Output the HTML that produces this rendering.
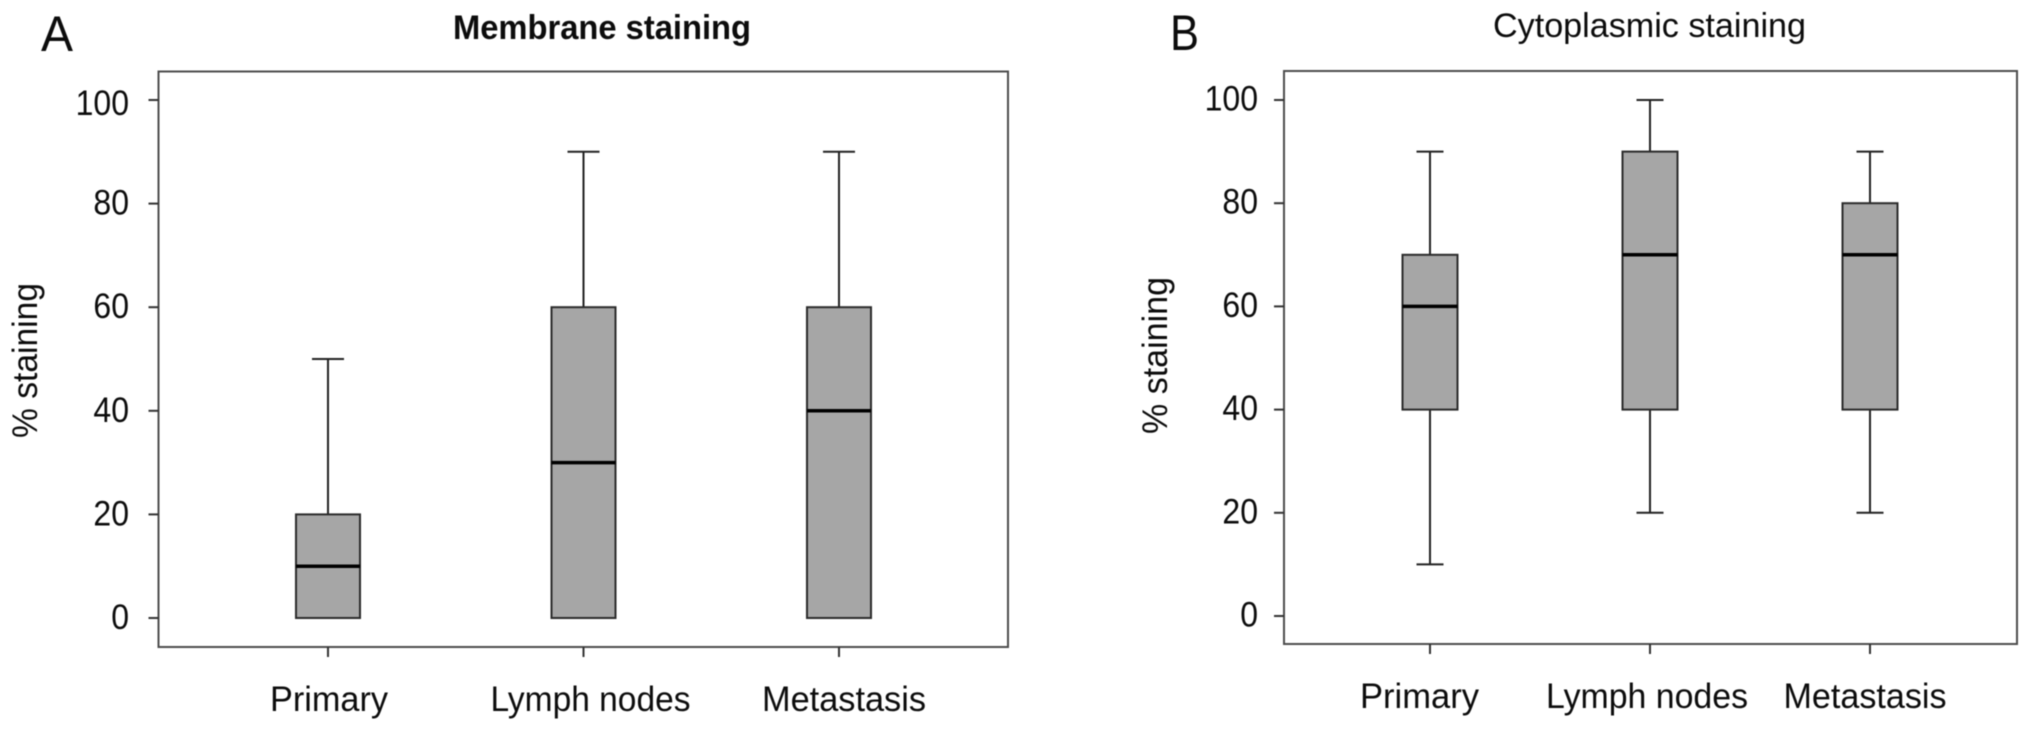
<!DOCTYPE html>
<html lang="en">
<head>
<meta charset="utf-8">
<title>Membrane and cytoplasmic staining box plots</title>
<style>
  html, body { margin: 0; padding: 0; background: #fff; }
  svg { display: block; filter: blur(0.4px); }
  text { font-family: "Liberation Sans", sans-serif; fill: #0c0c0c; }
</style>
</head>
<body>
<svg id="figure" width="2031" height="731" viewBox="0 0 2031 731" xmlns="http://www.w3.org/2000/svg">
  <rect x="0" y="0" width="2031" height="731" fill="#fff"/>
  <text x="41" y="51" font-size="50" textLength="32" lengthAdjust="spacingAndGlyphs">A</text>
  <text x="1170" y="50" font-size="50" textLength="29" lengthAdjust="spacingAndGlyphs">B</text>
  <text x="453" y="39" font-size="34" font-weight="bold" textLength="298" lengthAdjust="spacingAndGlyphs">Membrane staining</text>
  <text x="1493" y="37" font-size="34" textLength="313" lengthAdjust="spacingAndGlyphs">Cytoplasmic staining</text>
  <text transform="translate(37 438) rotate(-90)" font-size="35" textLength="155" lengthAdjust="spacingAndGlyphs">% staining</text>
  <text transform="translate(1167 434) rotate(-90)" font-size="35" textLength="157" lengthAdjust="spacingAndGlyphs">% staining</text>
  <g id="panel-a"></g>
  <g id="panel-b"></g>
</svg>
<script>
// Shared labels
const categories = ["Primary", "Lymph nodes", "Metastasis"];
const yTickValues = [0, 20, 40, 60, 80, 100];

// Panel A: membrane staining
const membraneLow = [0, 0, 0];
const membraneQ1 = [0, 0, 0];
const membraneMedian = [10, 30, 40];
const membraneQ3 = [20, 60, 60];
const membraneHigh = [50, 90, 90];

// Panel B: cytoplasmic staining
const cytoLow = [10, 20, 20];
const cytoQ1 = [40, 40, 40];
const cytoMedian = [60, 70, 70];
const cytoQ3 = [70, 90, 80];
const cytoHigh = [90, 100, 90];

const SVG_NS = "http://www.w3.org/2000/svg";

function make(parent, tag, attrs) {
  const el = document.createElementNS(SVG_NS, tag);
  for (const k in attrs) el.setAttribute(k, attrs[k]);
  parent.appendChild(el);
  return el;
}

function drawPanel(group, prefix, layout, low, q1, median, q3, high) {
  const yAxis = v => layout.y0 - (v / 100) * (layout.y0 - layout.y100);
  const xAxis = i => layout.x0 + i * layout.step;

  const frame = make(group, "rect", {
    x: layout.left, y: layout.top,
    width: layout.right - layout.left, height: layout.bottom - layout.top,
    fill: "none", stroke: "#4d4d4d", "stroke-width": 2
  });
  
  

  yTickValues.forEach(v => {
    const tick = make(group, "line", {
      x1: layout.left - layout.tickLen, x2: layout.left, y1: yAxis(v), y2: yAxis(v),
      stroke: "#333", "stroke-width": 2
    });
    
    

    const text = String(v);
    const label = make(group, "text", {
      x: layout.yLabelRight, y: yAxis(v) + (v === 100 ? layout.topLabelDrop : layout.labelDrop),
      "text-anchor": "end", "font-size": 35,
      textLength: text.length * 17.8, lengthAdjust: "spacingAndGlyphs"
    });
    label.textContent = text;
    
    
  });

  categories.forEach((name, i) => {
    const cx = xAxis(i);

    const tick = make(group, "line", {
      x1: cx, x2: cx, y1: layout.bottom, y2: layout.bottom + layout.tickLen,
      stroke: "#333", "stroke-width": 2
    });
    
    

    const label = make(group, "text", {
      x: cx + layout.catShift[i], y: layout.catBaseline,
      "text-anchor": "middle", "font-size": 35,
      textLength: layout.catWidth[i], lengthAdjust: "spacingAndGlyphs"
    });
    label.textContent = name;
    
    

    const whiskerUp = make(group, "line", {
      x1: cx, x2: cx, y1: yAxis(high[i]), y2: yAxis(q3[i]), stroke: "#222", "stroke-width": 2
    });
    
    

    const capUp = make(group, "line", {
      x1: cx - layout.capHalf, x2: cx + layout.capHalf, y1: yAxis(high[i]), y2: yAxis(high[i]),
      stroke: "#222", "stroke-width": 2
    });
    
    

    if (low[i] < q1[i]) {
      const whiskerDown = make(group, "line", {
        x1: cx, x2: cx, y1: yAxis(q1[i]), y2: yAxis(low[i]), stroke: "#222", "stroke-width": 2
      });
      
      

      const capDown = make(group, "line", {
        x1: cx - layout.capHalf, x2: cx + layout.capHalf, y1: yAxis(low[i]), y2: yAxis(low[i]),
        stroke: "#222", "stroke-width": 2
      });
      
      
    }

    const box = make(group, "rect", {
      x: cx - layout.boxHalf, y: yAxis(q3[i]),
      width: layout.boxHalf * 2, height: yAxis(q1[i]) - yAxis(q3[i]),
      fill: "#a6a6a6", stroke: "#2b2b2b", "stroke-width": 2
    });
    
    

    const med = make(group, "line", {
      x1: cx - layout.boxHalf, x2: cx + layout.boxHalf, y1: yAxis(median[i]), y2: yAxis(median[i]),
      stroke: "#000", "stroke-width": 3.5
    });
    
    
  });
}

drawPanel(document.getElementById("panel-a"), "panel-a", {
  left: 158.5, right: 1008, top: 71.5, bottom: 647,
  y0: 618, y100: 100, x0: 328, step: 255.5,
  boxHalf: 32, capHalf: 16, tickLen: 10,
  yLabelRight: 129, labelDrop: 11, topLabelDrop: 15,
  catBaseline: 711, catShift: [1, 7, 5], catWidth: [118, 200, 164]
}, membraneLow, membraneQ1, membraneMedian, membraneQ3, membraneHigh);

drawPanel(document.getElementById("panel-b"), "panel-b", {
  left: 1284, right: 2017, top: 71, bottom: 644,
  y0: 616, y100: 100, x0: 1430, step: 220,
  boxHalf: 27.5, capHalf: 13.5, tickLen: 10,
  yLabelRight: 1258, labelDrop: 10.5, topLabelDrop: 10.5,
  catBaseline: 708, catShift: [-10.5, -3, -5], catWidth: [119, 202, 163]
}, cytoLow, cytoQ1, cytoMedian, cytoQ3, cytoHigh);
</script>
</body>
</html>
